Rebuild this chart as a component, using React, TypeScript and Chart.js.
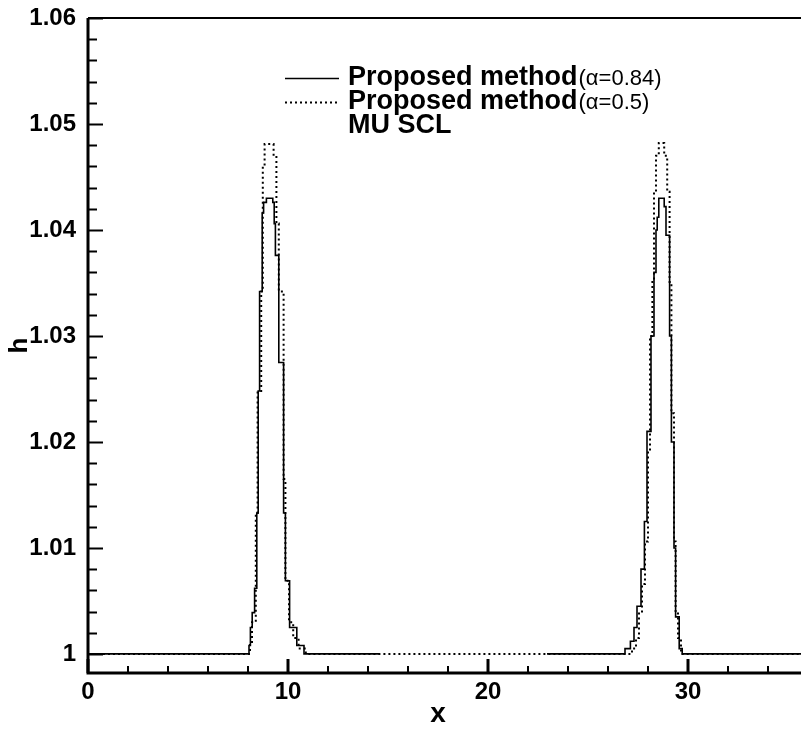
import React, { useEffect, useRef } from "react";
import { Chart, registerables } from "chart.js";

Chart.register(...registerables);

// Solid line: Proposed method (alpha = 0.84)
const solidX = [0, 8.05, 8.12, 8.21, 8.33, 8.44, 8.51, 8.58, 8.71, 8.78, 8.92, 9.24, 9.31, 9.37, 9.54, 9.78, 9.87, 10.08, 10.44, 10.8,
  26.85, 27.12, 27.3, 27.45, 27.65, 27.82, 27.95, 28.15, 28.3, 28.4, 28.46, 28.54, 28.81, 28.9, 29.08, 29.17, 29.3, 29.38, 29.56, 29.71, 36];
const solidH = [1.0, 1.0008, 1.0025, 1.0039, 1.0062, 1.0133, 1.0248, 1.0342, 1.0416, 1.0426, 1.043, 1.0426, 1.0406, 1.0376, 1.0275, 1.0133, 1.0069, 1.0025, 1.0008, 1.0,
  1.0005, 1.0012, 1.0025, 1.0045, 1.008, 1.0125, 1.021, 1.03, 1.036, 1.04, 1.0412, 1.043, 1.0422, 1.0395, 1.03, 1.02, 1.01, 1.0035, 1.0005, 1.0, 1.0];

// Dotted line: Proposed method (alpha = 0.5)
const dottedX = [0, 8.1, 8.2, 8.39, 8.48, 8.66, 8.74, 8.83, 9.28, 9.42, 9.54, 9.78, 9.87, 10.05, 10.26, 10.53, 10.89,
  27.2, 27.4, 27.55, 27.7, 27.85, 28.0, 28.1, 28.22, 28.3, 28.4, 28.54, 28.81, 28.96, 29.08, 29.17, 29.3, 29.38, 29.5, 29.65, 36];
const dottedH = [1.0, 1.001, 1.003, 1.0133, 1.0248, 1.0342, 1.046, 1.0481, 1.047, 1.0406, 1.0342, 1.0165, 1.0069, 1.003, 1.0015, 1.0005, 1.0,
  1.0005, 1.0015, 1.004, 1.0066, 1.0106, 1.019, 1.03, 1.0351, 1.0436, 1.047, 1.0482, 1.047, 1.0436, 1.0351, 1.0227, 1.0106, 1.0039, 1.0015, 1.0, 1.0];

// MUSCL (drawn in white in the original)
const musclX = [14.6, 22.95];
const musclH = [1.0, 1.0];

const xMajorTicks = [0, 10, 20, 30];
const xMinorTicks = [2, 4, 6, 8, 12, 14, 16, 18, 22, 24, 26, 28, 32, 34, 36];
const yMajorTicks = [1.0, 1.01, 1.02, 1.03, 1.04, 1.05, 1.06];
const yMinorTicks = [1.002, 1.004, 1.006, 1.008, 1.012, 1.014, 1.016, 1.018, 1.022, 1.024, 1.026, 1.028,
  1.032, 1.034, 1.036, 1.038, 1.042, 1.044, 1.046, 1.048, 1.052, 1.054, 1.056, 1.058];

const xMin = 0;
const xMax = 36;
const yMin = 0.9982;
const yMax = 1.06;

const legendEntries = [
  { name: "Proposed method", extra: "(\u03b1=0.84)", style: "solid" },
  { name: "Proposed method", extra: "(\u03b1=0.5)", style: "dotted" },
  { name: "MU SCL", extra: "", style: "none" },
];

const FONT = "'Liberation Sans', Arial, sans-serif";

const toPoints = (xs: number[], ys: number[]) => xs.map((x, i) => ({ x, y: ys[i] }));

const framePlugin = {
  id: "frame",
  afterDraw(chart: any) {
    const { ctx, chartArea } = chart;
    const xs = chart.scales.x;
    const ys = chart.scales.y;
    ctx.save();
    ctx.strokeStyle = "#000";
    const drawY = (v: number, len: number, w: number) => {
      const p = Math.round(ys.getPixelForValue(v)) + 0.5;
      ctx.lineWidth = w;
      ctx.beginPath();
      ctx.moveTo(chartArea.left, p);
      ctx.lineTo(chartArea.left + len, p);
      ctx.stroke();
    };
    const drawX = (v: number, len: number, w: number) => {
      const p = Math.round(xs.getPixelForValue(v));
      ctx.lineWidth = w;
      ctx.beginPath();
      ctx.moveTo(p, chartArea.bottom);
      ctx.lineTo(p, chartArea.bottom - len);
      ctx.stroke();
    };
    yMinorTicks.forEach((v) => drawY(v, 9, 2));
    yMajorTicks.forEach((v) => drawY(v, 15, 2));
    xMinorTicks.forEach((v) => drawX(v, 7, 2));
    xMajorTicks.forEach((v) => drawX(v, 14, 3));
    ctx.lineWidth = 3;
    ctx.beginPath();
    ctx.moveTo(chartArea.left, chartArea.top);
    ctx.lineTo(chartArea.left, chartArea.bottom);
    ctx.lineTo(chartArea.right + 20, chartArea.bottom);
    ctx.stroke();
    ctx.lineWidth = 2;
    ctx.beginPath();
    ctx.moveTo(chartArea.left, chartArea.top);
    ctx.lineTo(chartArea.right + 20, chartArea.top);
    ctx.stroke();

    ctx.fillStyle = "#000";
    ctx.font = `bold 28px ${FONT}`;
    ctx.textAlign = "center";
    ctx.textBaseline = "middle";
    ctx.fillText("x", (chartArea.left + chartArea.right) / 2 - 10, 714);
    ctx.save();
    ctx.translate(20, (chartArea.top + chartArea.bottom) / 2);
    ctx.rotate(-Math.PI / 2);
    ctx.font = `bold 26px ${FONT}`;
    ctx.fillText("h", 0, 0);
    ctx.restore();

    const rows = [78, 102, 126];
    legendEntries.forEach((e, i) => {
      const y = rows[i];
      if (e.style !== "none") {
        ctx.lineWidth = e.style === "solid" ? 1.5 : 2;
        ctx.setLineDash(e.style === "solid" ? [] : [2, 3]);
        ctx.beginPath();
        ctx.moveTo(285, y + 0.5);
        ctx.lineTo(339, y + 0.5);
        ctx.stroke();
        ctx.setLineDash([]);
      }
      ctx.textAlign = "left";
      ctx.textBaseline = "middle";
      ctx.font = `bold 27px ${FONT}`;
      ctx.fillText(e.name, 348, y);
      const w = ctx.measureText(e.name).width;
      if (e.extra) {
        ctx.font = `22px ${FONT}`;
        ctx.fillText(e.extra, 348 + w + 1, y + 1);
      }
    });
    ctx.restore();
  },
};

export default function App() {
  const ref = useRef<HTMLCanvasElement | null>(null);
  useEffect(() => {
    if (!ref.current) return;
    const chart = new Chart(ref.current, {
      type: "line",
      data: {
        datasets: [
          {
            label: "Proposed method(\u03b1=0.84)",
            data: toPoints(solidX, solidH),
            borderColor: "#000",
            borderWidth: 1.6,
            pointRadius: 0,
            stepped: true,
            fill: false,
            order: 3,
          },
          {
            label: "MU SCL",
            data: toPoints(musclX, musclH),
            borderColor: "#fff",
            borderWidth: 3,
            pointRadius: 0,
            fill: false,
            order: 2,
          },
          {
            label: "Proposed method(\u03b1=0.5)",
            data: toPoints(dottedX, dottedH),
            borderColor: "#000",
            borderWidth: 2,
            borderDash: [2, 3],
            pointRadius: 0,
            stepped: true,
            fill: false,
            order: 1,
          },
        ],
      },
      options: {
        responsive: false,
        animation: false,
        events: [],
        layout: { padding: { left: 0, right: 12, top: 18, bottom: 0 } },
        plugins: { legend: { display: false }, tooltip: { enabled: false } },
        scales: {
          x: {
            type: "linear",
            min: xMin,
            max: xMax,
            afterBuildTicks: (s: any) => {
              s.ticks = xMajorTicks.map((v) => ({ value: v }));
            },
            afterFit: (s: any) => {
              s.height = 59;
              s.paddingLeft = 0;
              s.paddingRight = 0;
            },
            grid: { display: false, drawTicks: false },
            border: { display: false },
            ticks: {
              padding: 5,
              color: "#000",
              font: { family: FONT, size: 24, weight: "bold" },
              callback: (v: any) => String(v),
            },
          },
          y: {
            type: "linear",
            min: yMin,
            max: yMax,
            afterBuildTicks: (s: any) => {
              s.ticks = yMajorTicks.map((v) => ({ value: v }));
            },
            afterFit: (s: any) => {
              s.width = 88;
              s.paddingTop = 0;
              s.paddingBottom = 0;
            },
            grid: { display: false, drawTicks: false },
            border: { display: false },
            ticks: {
              padding: 12,
              color: "#000",
              font: { family: FONT, size: 24, weight: "bold" },
              callback: (v: any) => (Math.abs(v - 1) < 1e-9 ? "1" : Number(v).toFixed(2)),
            },
          },
        },
      },
      plugins: [framePlugin],
    });
    return () => chart.destroy();
  }, []);
  return (
    <div style={{ position: "fixed", left: 0, top: 0, width: 801, height: 732, overflow: "hidden", background: "#fff" }}>
      <canvas ref={ref} width={820} height={732} style={{ width: 820, height: 732, display: "block" }} />
    </div>
  );
}
